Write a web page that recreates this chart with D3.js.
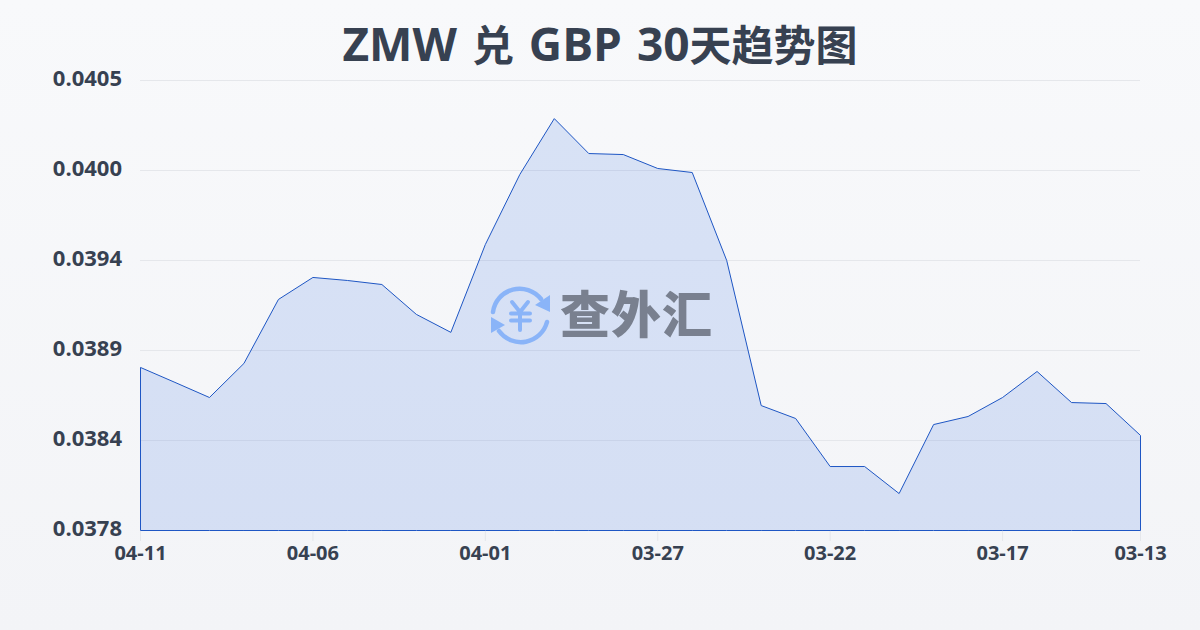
<!DOCTYPE html>
<html><head><meta charset="utf-8">
<script src="https://cdn.jsdelivr.net/npm/d3@7"></script>
<style>html,body{margin:0;padding:0;background:#f8f9fb}svg{display:block}</style>
</head><body><svg id="c" width="1200" height="630"></svg>
<script>
const titleParts = [["ZMW ",46],["兑",42],[" GBP 30",46],["天趋势图",42]];
const dates = ["04-11","04-10","04-09","04-08","04-07","04-06","04-05","04-04","04-03","04-02","04-01","03-31","03-30","03-29","03-28","03-27","03-26","03-25","03-24","03-23","03-22","03-21","03-20","03-19","03-18","03-17","03-16","03-15","03-14","03-13"];
const rates = [0.038791,0.038702,0.038612,0.038815,0.039196,0.039327,0.039309,0.039285,0.039107,0.039,0.039523,0.03994,0.040273,0.040065,0.040059,0.039976,0.039952,0.039428,0.038564,0.038487,0.038201,0.038201,0.03804,0.038451,0.038499,0.038612,0.038767,0.038582,0.038576,0.038386];
const xTickLabels = ["04-11","04-06","04-01","03-27","03-22","03-17","03-13"];
const yTickValues = [0.03782,0.038356,0.038892,0.039428,0.039964,0.0405];
const yTickLabels = ["0.0378","0.0384","0.0389","0.0394","0.0400","0.0405"];
const fontStack = '"Open Sans","Noto Sans CJK SC",sans-serif';

const svg = d3.select("#c");
const defs = svg.append("defs");
const bg = defs.append("linearGradient").attr("id","bg").attr("x1",0).attr("y1",0).attr("x2",0).attr("y2",1);
bg.append("stop").attr("offset",0).attr("stop-color","#f8f9fb");
bg.append("stop").attr("offset",1).attr("stop-color","#f3f4f7");
svg.append("rect").attr("width",1200).attr("height",630).attr("fill","url(#bg)");

const x = d3.scalePoint().domain(dates).range([140.5,1140.5]);
const y = d3.scaleLinear().domain([0.03782,0.0405]).range([530.5,80.5]);

svg.append("text").attr("x",600).attr("y",61).attr("text-anchor","middle").attr("xml:space","preserve")
  .style("white-space","pre").style("word-spacing","3px")
  .attr("font-family",fontStack).attr("font-weight",700).attr("fill","#374151")
  .selectAll("tspan").data(titleParts).join("tspan").attr("font-size",d=>d[1]).text(d=>d[0]);

svg.append("g").selectAll("line").data(yTickValues.slice(1)).join("line")
  .attr("x1",140).attr("x2",1140).attr("y1",d=>Math.round(y(d)-.5)+.5).attr("y2",d=>Math.round(y(d)-.5)+.5)
  .attr("stroke","#e5e7eb").attr("stroke-width",1);

svg.append("g").selectAll("text").data(yTickValues).join("text")
  .attr("x",122).attr("y",d=>y(d)+5.5).attr("text-anchor","end")
  .attr("font-family",fontStack).attr("font-size",22).attr("font-weight",700).attr("fill","#374151")
  .text((d,i)=>yTickLabels[i]);

const xTicks = svg.append("g");
xTicks.selectAll("line").data(xTickLabels).join("line")
  .attr("x1",d=>x(d)).attr("x2",d=>x(d)).attr("y1",531).attr("y2",541)
  .attr("stroke","#e5e7eb");
xTicks.selectAll("text").data(xTickLabels).join("text")
  .attr("x",d=>x(d)).attr("y",560).attr("text-anchor","middle")
  .attr("font-family",fontStack).attr("font-size",20).attr("font-weight",700).attr("fill","#374151").text(d=>d);

const area = d3.area().x((d,i)=>x(dates[i])).y0(530.5).y1(d=>y(d));
svg.append("path").datum(rates).attr("d",area)
  .attr("fill","#2a64de").attr("fill-opacity",.15).attr("stroke","#1e56c4").attr("stroke-width",1).attr("stroke-linejoin","round");

// watermark logo
const blue = "#8ab4f8";
const logo = svg.append("g").attr("fill","none").attr("stroke",blue).attr("stroke-linecap","round");
logo.append("path").attr("stroke-width",4.5).attr("d","M493,312 A27,27 0 0 1 541,299");
logo.append("path").attr("stroke-width",4.5).attr("d","M547,322 A27,27 0 0 1 499,331");
logo.append("path").attr("stroke","none").attr("fill",blue).attr("d","M550,312 L550,295 L535,305Z M491,317 L491,333 L505,325Z");
logo.append("path").attr("stroke-width",4).attr("d","M512,302 L520,312 L528,302 M511,313.5 H530 M511,320.5 H530 M520,312 V330");
svg.append("text").attr("x",560).attr("y",333).attr("font-family",'"Noto Sans CJK SC",sans-serif').attr("font-size",50)
  .attr("font-weight",900).attr("fill","#79808f").attr("textLength",152).text("查外汇");
</script></body></html>
